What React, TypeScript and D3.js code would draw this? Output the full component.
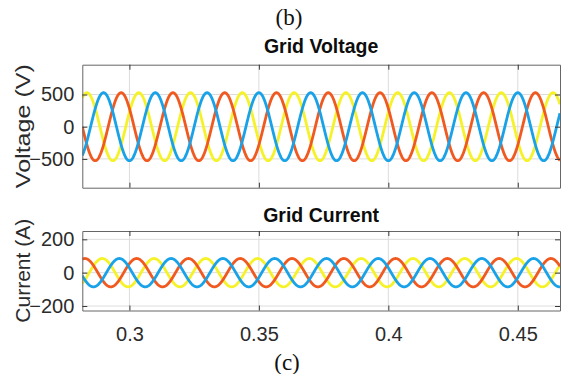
import React, { useRef, useEffect } from "react";
import { select, scaleLinear, axisBottom, axisTop, axisLeft, axisRight, line, range } from "d3";

// time axis (s)
const timeRange = [0.2818, 0.4663];
const xTickValues = [0.3, 0.35, 0.4, 0.45];

// three phases, in drawing order (yellow, orange, blue)
const phaseNames = ["c", "b", "a"];
const frequencyHz = 50;

// grid voltage: peak value (V) and time of a positive peak (s) per phase
const voltageAmplitudes = [528, 528, 528];
const voltagePeakTimes = [0.3036, 0.2968, 0.29];
const voltageRange = [-947, 963];
const voltageTicks = [-500, 0, 500];

// grid current: peak value (A) and time of a positive peak (s) per phase
const currentAmplitudes = [85, 85, 85];
const currentPeakTimes = [0.2895, 0.2828, 0.2961];
const currentRange = [-227, 250];
const currentTicks = [-200, 0, 200];

const phaseColors = ["#f6f22a", "#f05a21", "#19a2e8"];

const W = 562;
const H = 374;
const left = 82.3;
const right = 560;

interface Pt {
  t: number;
  v: number;
}

const App: React.FC = () => {
  const svgRef = useRef<SVGSVGElement>(null);

  useEffect(() => {
    const svg = select(svgRef.current);
    svg.selectAll("*").remove();

    const x = scaleLinear().domain(timeRange).range([left, right]);
    const times = range(timeRange[0], timeRange[1] + 0.00005, 0.0001);

    const panels = [
      {
        top: 64.7,
        bottom: 187.7,
        domain: voltageRange,
        ticks: voltageTicks,
        amps: voltageAmplitudes,
        peaks: voltagePeakTimes,
        title: "Grid Voltage",
        titleY: 53,
        ylabel: "Voltage (V)",
        ylabelLen: 124,
        xLabels: false,
      },
      {
        top: 231,
        bottom: 310.5,
        domain: currentRange,
        ticks: currentTicks,
        amps: currentAmplitudes,
        peaks: currentPeakTimes,
        title: "Grid Current",
        titleY: 221.5,
        ylabel: "Current (A)",
        ylabelLen: 104,
        xLabels: true,
      },
    ];

    panels.forEach((p) => {
      const y = scaleLinear().domain(p.domain).range([p.bottom, p.top]);
      const g = svg.append("g");

      // fondo y rejilla
      g.append("rect")
        .attr("x", left)
        .attr("y", p.top)
        .attr("width", right - left)
        .attr("height", p.bottom - p.top)
        .attr("fill", "#fff");
      g.selectAll(".gx")
        .data(xTickValues)
        .join("line")
        .attr("x1", (d) => x(d))
        .attr("x2", (d) => x(d))
        .attr("y1", p.top)
        .attr("y2", p.bottom)
        .attr("stroke", "#dcdcdc")
        .attr("stroke-width", 1);
      g.selectAll(".gy")
        .data(p.ticks)
        .join("line")
        .attr("x1", left)
        .attr("x2", right)
        .attr("y1", (d) => y(d))
        .attr("y2", (d) => y(d))
        .attr("stroke", "#dcdcdc")
        .attr("stroke-width", 1);

      // curvas
      const clipId = `clip-${p.ylabel.replace(/\W/g, "")}`;
      svg
        .append("clipPath")
        .attr("id", clipId)
        .append("rect")
        .attr("x", left)
        .attr("y", p.top)
        .attr("width", right - left)
        .attr("height", p.bottom - p.top);
      const lineGen = line<Pt>()
        .x((d) => x(d.t))
        .y((d) => y(d.v));
      phaseNames.forEach((_, i) => {
        const pts: Pt[] = times.map((t) => ({
          t,
          v: p.amps[i] * Math.cos(2 * Math.PI * frequencyHz * (t - p.peaks[i])),
        }));
        g.append("path")
          .datum(pts)
          .attr("clip-path", `url(#${clipId})`)
          .attr("fill", "none")
          .attr("stroke", phaseColors[i])
          .attr("stroke-width", 2.8)
          .attr("stroke-linejoin", "round")
          .attr("d", lineGen);
      });

      // ejes
      const axColor = "#3a3a3a";
      const bottomAx = g
        .append("g")
        .attr("transform", `translate(0,${p.bottom})`)
        .call(
          axisBottom(x)
            .tickValues(xTickValues)
            .tickSize(-5)
            .tickSizeOuter(0)
            .tickPadding(16)
            .tickFormat((d) => (p.xLabels ? `${d}` : ""))
        );
      const topAx = g
        .append("g")
        .attr("transform", `translate(0,${p.top})`)
        .call(axisTop(x).tickValues(xTickValues).tickSize(-5).tickSizeOuter(0).tickFormat(() => ""));
      const leftAx = g
        .append("g")
        .attr("transform", `translate(${left},0)`)
        .call(axisLeft(y).tickValues(p.ticks).tickSize(-5).tickSizeOuter(0).tickPadding(8));
      const rightAx = g
        .append("g")
        .attr("transform", `translate(${right},0)`)
        .call(axisRight(y).tickValues(p.ticks).tickSize(-5).tickSizeOuter(0).tickFormat(() => ""));

      [bottomAx, topAx, leftAx, rightAx].forEach((a) => {
        a.selectAll("path, line").attr("stroke", axColor).attr("stroke-width", 1);
        a.selectAll("path").attr("stroke", "#666");
        a.selectAll("text")
          .attr("fill", "#2b2b2b")
          .attr("font-family", "'Liberation Sans', Arial, sans-serif")
          .attr("font-size", 20);
      });

      // títulos
      g.append("text")
        .attr("x", (left + right) / 2)
        .attr("y", p.titleY)
        .attr("text-anchor", "middle")
        .attr("font-family", "'Liberation Sans', Arial, sans-serif")
        .attr("font-weight", "bold")
        .attr("font-size", 19.5)
        .attr("fill", "#0d0d0d")
        .text(p.title);

      g.append("text")
        .attr("transform", `translate(30,${(p.top + p.bottom) / 2}) rotate(-90)`)
        .attr("text-anchor", "middle")
        .attr("font-family", "'Liberation Sans', Arial, sans-serif")
        .attr("font-size", 21)
        .attr("fill", "#2b2b2b")
        .attr("textLength", p.ylabelLen)
        .attr("lengthAdjust", "spacingAndGlyphs")
        .text(p.ylabel);
    });

    // etiquetas de subfigura
    svg
      .append("text")
      .attr("x", 289)
      .attr("y", 25)
      .attr("text-anchor", "middle")
      .attr("font-family", "'Liberation Serif', 'Times New Roman', serif")
      .attr("font-size", 23)
      .attr("fill", "#111")
      .text("(b)");
    svg
      .append("text")
      .attr("x", 287)
      .attr("y", 370)
      .attr("text-anchor", "middle")
      .attr("font-family", "'Liberation Serif', 'Times New Roman', serif")
      .attr("font-size", 23)
      .attr("fill", "#111")
      .text("(c)");
  }, []);

  return (
    <svg
      ref={svgRef}
      width={W}
      height={H}
      viewBox={`0 0 ${W} ${H}`}
      style={{ position: "absolute", left: 0, top: 0, background: "#fff" }}
    />
  );
};

export default App;
